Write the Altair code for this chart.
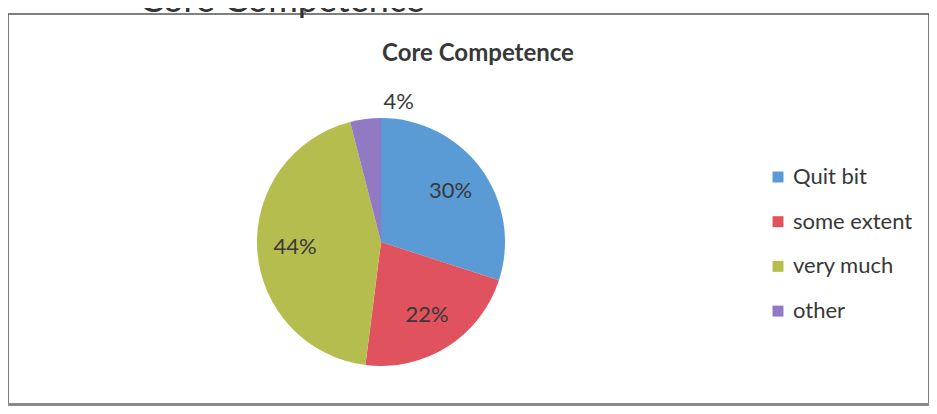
import altair as alt
import pandas as pd

categories = ["Quit bit", "some extent", "very much", "other"]
values = [30, 22, 44, 4]
colors = ["#5b9bd5", "#e0525e", "#b5bd4f", "#9279c4"]

df = pd.DataFrame({
    "category": categories,
    "value": values,
    "idx": list(range(len(categories))),
})

CX, CY = 373, 228
TXT = "#383838"

base = alt.Chart(df).transform_calculate(
    label="datum.value + '%'",
    lr="datum.category == 'other' ? 141 : 86",
).encode(
    theta=alt.Theta("value:Q", stack=True),
    order=alt.Order("idx:Q"),
)

arcs = base.mark_arc(radius=124).encode(
    x=alt.value(CX),
    y=alt.value(CY),
    color=alt.Color(
        "category:N",
        scale=alt.Scale(domain=categories, range=colors),
        legend=alt.Legend(
            title=None,
            orient="none",
            legendX=759,
            legendY=152,
            symbolType="square",
            symbolSize=120,
            symbolStrokeWidth=0,
            symbolOpacity=1,
            labelFont="Lato",
            labelFontSize=22,
            labelColor=TXT,
            labelOffset=4,
            rowPadding=22.7,
            padding=0,
        ),
    ),
)

labels = base.mark_text(font="Lato", fontSize=22, color=TXT).encode(
    x=alt.value(CX),
    y=alt.value(CY),
    radius=alt.Radius("lr:Q", scale=None),
    text="label:N",
)

title = alt.Chart(df.head(1)).mark_text(
    font="Lato", fontSize=24, fontWeight="bold", color=TXT, baseline="middle",
    text="Core Competence",
).encode(x=alt.value(470), y=alt.value(40))

frame_top_text = alt.Chart(df.head(1)).mark_text(
    font="Lato", fontSize=36, color="#333", baseline="alphabetic", text="Core Competence"
).encode(x=alt.value(274), y=alt.value(-2))

tick = alt.Chart(df.head(1)).mark_rule(color="#555", strokeWidth=1.2).encode(
    x=alt.value(297), y=alt.value(-8), y2=alt.value(0)
)

bottom_band = alt.Chart(df.head(1)).mark_rule(color="#8a8a8a", strokeWidth=4).encode(
    x=alt.value(0), x2=alt.value(921), y=alt.value(391)
)

chart = alt.layer(arcs, labels, title, frame_top_text, tick, bottom_band).properties(
    width=921,
    height=392,
    padding={"left": 0, "top": 6, "right": 0, "bottom": 0},
    autosize=alt.AutoSizeParams(type="none"),
).configure_view(stroke="#555", strokeWidth=1.5)

chart.save("out.html", embed_options={"renderer": "svg", "actions": False})
